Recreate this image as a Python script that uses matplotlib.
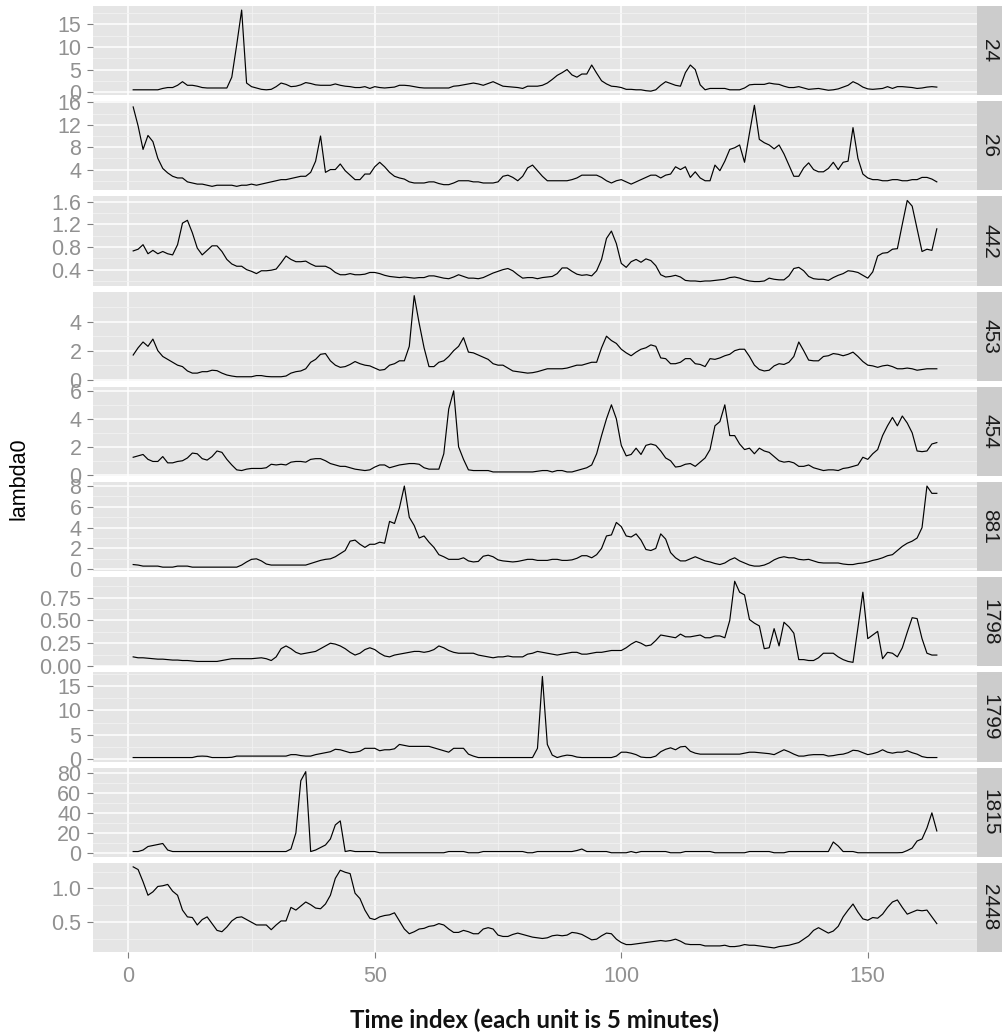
import numpy as np
import matplotlib
matplotlib.use("Agg")
import matplotlib.pyplot as plt

# ---- data -----------------------------------------------------------------
time_index = np.arange(1, 165)

sensor_ids = ["24", "26", "442", "453", "454", "881", "1798", "1799", "1815", "2448"]

lambda_24 = [
    0.5, 0.5, 0.5, 0.5, 0.5, 0.5, 0.8, 1.0, 1.0, 1.5,
    2.3, 1.5, 1.5, 1.3, 1.0, 0.9, 0.9, 0.9, 0.9, 0.9,
    3.3, 10.5, 18.2, 2.0, 1.2, 0.9, 0.6, 0.5, 0.6, 1.2,
    2.0, 1.7, 1.2, 1.3, 1.6, 2.1, 1.9, 1.6, 1.5, 1.5,
    1.5, 1.8, 1.5, 1.3, 1.2, 1.0, 1.0, 1.2, 0.8, 1.2,
    1.0, 0.9, 1.0, 1.1, 1.5, 1.5, 1.4, 1.2, 1.0, 0.9,
    0.9, 0.9, 0.9, 0.9, 0.9, 1.3, 1.4, 1.6, 1.8, 2.0,
    1.8, 1.5, 1.9, 2.3, 1.8, 1.3, 1.2, 1.1, 1.0, 0.8,
    1.3, 1.3, 1.3, 1.5, 2.0, 2.8, 3.7, 4.3, 5.0, 3.8,
    3.3, 4.0, 4.0, 6.0, 4.2, 2.5, 1.8, 1.3, 1.2, 1.0,
    0.6, 0.6, 0.5, 0.5, 0.3, 0.2, 0.5, 1.5, 2.3, 1.9,
    1.5, 1.3, 4.3, 6.0, 5.0, 1.6, 0.5, 0.8, 0.8, 0.8,
    0.8, 0.5, 0.5, 0.5, 0.9, 1.6, 1.7, 1.7, 1.7, 2.0,
    1.8, 1.7, 1.3, 1.0, 1.0, 1.2, 0.9, 0.6, 0.7, 0.8,
    0.6, 0.4, 0.5, 0.7, 1.1, 1.5, 2.3, 1.8, 1.1, 0.7,
    0.6, 0.7, 0.8, 1.2, 0.8, 1.2, 1.2, 1.1, 1.0, 0.8,
    0.9, 1.1, 1.2, 1.1,
]

lambda_26 = [
    15.2, 11.8, 7.6, 10.1, 9.0, 6.0, 4.2, 3.4, 2.8, 2.5,
    2.5, 1.8, 1.6, 1.4, 1.4, 1.2, 1.0, 1.2, 1.2, 1.2,
    1.2, 1.0, 1.2, 1.2, 1.4, 1.2, 1.4, 1.6, 1.8, 2.0,
    2.2, 2.2, 2.4, 2.6, 2.8, 2.8, 3.5, 5.5, 10.0, 3.5,
    4.0, 4.0, 5.0, 3.8, 3.0, 2.2, 2.2, 3.2, 3.2, 4.5,
    5.3, 4.5, 3.5, 2.8, 2.5, 2.3, 1.8, 1.6, 1.6, 1.6,
    1.8, 1.8, 1.5, 1.3, 1.3, 1.6, 2.0, 2.0, 2.0, 1.8,
    1.8, 1.6, 1.6, 1.6, 1.8, 2.8, 3.0, 2.6, 2.0, 2.8,
    4.3, 4.8, 3.8, 2.8, 2.0, 2.0, 2.0, 2.0, 2.0, 2.2,
    2.5, 3.0, 3.0, 3.0, 3.0, 2.6, 2.0, 1.6, 2.0, 2.2,
    1.8, 1.4, 1.8, 2.2, 2.6, 3.0, 3.0, 2.5, 3.0, 3.2,
    4.5, 4.0, 4.5, 2.6, 3.6, 2.5, 2.0, 2.0, 4.8, 3.8,
    5.5, 7.6, 7.9, 8.4, 5.3, 10.5, 15.5, 9.4, 8.8, 8.4,
    7.7, 8.4, 6.8, 4.8, 2.8, 2.8, 4.3, 5.2, 4.0, 3.6,
    3.6, 4.2, 5.3, 4.0, 5.3, 5.5, 11.5, 6.0, 3.2, 2.5,
    2.2, 2.2, 2.0, 2.0, 2.2, 2.2, 2.0, 2.0, 2.2, 2.2,
    2.6, 2.6, 2.3, 1.8,
]

lambda_442 = [
    0.73, 0.76, 0.84, 0.68, 0.74, 0.68, 0.72, 0.68, 0.66, 0.84,
    1.22, 1.27, 1.05, 0.78, 0.66, 0.74, 0.82, 0.82, 0.72, 0.58,
    0.50, 0.46, 0.46, 0.40, 0.37, 0.33, 0.38, 0.38, 0.39, 0.41,
    0.52, 0.64, 0.58, 0.54, 0.54, 0.55, 0.50, 0.46, 0.46, 0.46,
    0.42, 0.35, 0.31, 0.31, 0.33, 0.31, 0.31, 0.32, 0.35, 0.35,
    0.33, 0.30, 0.28, 0.27, 0.26, 0.27, 0.26, 0.25, 0.26, 0.26,
    0.29, 0.29, 0.27, 0.25, 0.24, 0.27, 0.31, 0.28, 0.25, 0.25,
    0.24, 0.26, 0.30, 0.34, 0.37, 0.40, 0.42, 0.38, 0.31, 0.25,
    0.26, 0.26, 0.24, 0.26, 0.27, 0.28, 0.33, 0.43, 0.43, 0.37,
    0.32, 0.30, 0.31, 0.29, 0.38, 0.58, 0.95, 1.08, 0.86, 0.51,
    0.44, 0.54, 0.58, 0.53, 0.59, 0.56, 0.47, 0.31, 0.27, 0.28,
    0.30, 0.27, 0.21, 0.20, 0.20, 0.19, 0.20, 0.20, 0.21, 0.22,
    0.23, 0.26, 0.27, 0.25, 0.22, 0.20, 0.19, 0.19, 0.20, 0.25,
    0.23, 0.22, 0.22, 0.29, 0.42, 0.44, 0.38, 0.28, 0.24, 0.23,
    0.23, 0.21, 0.26, 0.30, 0.33, 0.38, 0.37, 0.35, 0.30, 0.25,
    0.36, 0.64, 0.69, 0.70, 0.76, 0.77, 1.20, 1.62, 1.52, 1.12,
    0.72, 0.76, 0.74, 1.12,
]

lambda_453 = [
    1.7, 2.2, 2.6, 2.3, 2.8, 2.0, 1.6, 1.4, 1.2, 1.0,
    0.9, 0.6, 0.45, 0.45, 0.55, 0.55, 0.65, 0.62, 0.45, 0.32,
    0.25, 0.2, 0.2, 0.2, 0.2, 0.28, 0.28, 0.22, 0.2, 0.2,
    0.2, 0.25, 0.45, 0.55, 0.6, 0.75, 1.2, 1.4, 1.75, 1.8,
    1.3, 1.0, 0.85, 0.9, 1.05, 1.25, 1.1, 1.0, 0.95, 0.8,
    0.65, 0.7, 1.0, 1.1, 1.3, 1.3, 2.3, 5.8, 3.9, 2.2,
    0.9, 0.9, 1.2, 1.3, 1.6, 2.0, 2.3, 2.9, 1.9, 1.85,
    1.7, 1.55, 1.4, 1.1, 1.0, 1.0, 0.8, 0.6, 0.55, 0.5,
    0.45, 0.48, 0.55, 0.65, 0.75, 0.75, 0.75, 0.75, 0.8, 0.9,
    1.0, 1.0, 1.1, 1.2, 1.2, 2.2, 3.0, 2.7, 2.5, 2.1,
    1.85, 1.65, 1.9, 2.1, 2.2, 2.4, 2.3, 1.5, 1.45, 1.1,
    1.1, 1.2, 1.45, 1.45, 1.1, 1.05, 0.9, 1.45, 1.4, 1.5,
    1.65, 1.75, 2.0, 2.1, 2.1, 1.6, 1.0, 0.7, 0.6, 0.65,
    0.95, 1.1, 1.05, 1.2, 1.6, 2.6, 2.0, 1.35, 1.3, 1.3,
    1.6, 1.65, 1.8, 1.75, 1.65, 1.75, 1.9, 1.6, 1.25, 1.0,
    0.95, 0.85, 0.95, 1.0, 0.9, 0.75, 0.75, 0.8, 0.75, 0.65,
    0.7, 0.75, 0.75, 0.75,
]

lambda_454 = [
    1.25, 1.35, 1.45, 1.1, 0.95, 0.95, 1.3, 0.85, 0.85, 0.95,
    1.0, 1.2, 1.55, 1.5, 1.15, 1.05, 1.3, 1.7, 1.6, 1.1,
    0.7, 0.35, 0.3, 0.4, 0.45, 0.45, 0.45, 0.5, 0.75, 0.7,
    0.75, 0.7, 0.9, 0.95, 0.95, 0.9, 1.1, 1.15, 1.15, 1.0,
    0.8, 0.7, 0.6, 0.6, 0.5, 0.4, 0.35, 0.3, 0.35, 0.55,
    0.7, 0.7, 0.5, 0.6, 0.7, 0.75, 0.8, 0.8, 0.75, 0.5,
    0.4, 0.4, 0.4, 1.5, 4.7, 6.0, 2.0, 1.1, 0.35, 0.3,
    0.3, 0.3, 0.3, 0.2, 0.2, 0.2, 0.2, 0.2, 0.2, 0.2,
    0.2, 0.2, 0.25, 0.3, 0.3, 0.2, 0.3, 0.3, 0.2, 0.2,
    0.3, 0.4, 0.5, 0.7, 1.5, 2.8, 4.0, 5.0, 4.0, 2.1,
    1.35, 1.45, 1.9, 1.45, 2.1, 2.2, 2.1, 1.7, 1.2, 1.0,
    0.55, 0.6, 0.75, 0.8, 0.6, 0.9, 1.2, 1.8, 3.5, 3.8,
    5.0, 2.8, 2.8, 2.2, 1.8, 1.9, 1.5, 1.9, 1.7, 1.6,
    1.3, 1.0, 0.9, 0.95, 0.85, 0.6, 0.6, 0.7, 0.5, 0.4,
    0.3, 0.35, 0.35, 0.3, 0.45, 0.5, 0.6, 0.7, 1.25, 1.1,
    1.5, 1.8, 2.8, 3.5, 4.1, 3.5, 4.2, 3.7, 3.0, 1.7,
    1.65, 1.7, 2.2, 2.3,
]

lambda_881 = [
    0.45, 0.4, 0.3, 0.3, 0.3, 0.3, 0.2, 0.2, 0.2, 0.3,
    0.3, 0.3, 0.2, 0.2, 0.2, 0.2, 0.2, 0.2, 0.2, 0.2,
    0.2, 0.2, 0.4, 0.7, 0.95, 1.0, 0.8, 0.5, 0.4, 0.4,
    0.4, 0.4, 0.4, 0.4, 0.4, 0.4, 0.55, 0.7, 0.85, 0.95,
    1.0, 1.2, 1.5, 1.8, 2.7, 2.8, 2.4, 2.1, 2.4, 2.4,
    2.6, 2.5, 4.6, 4.4, 5.9, 8.0, 5.0, 4.2, 3.0, 3.2,
    2.6, 2.1, 1.4, 1.2, 0.95, 0.95, 0.95, 1.1, 0.8, 0.7,
    0.75, 1.25, 1.35, 1.2, 0.9, 0.8, 0.75, 0.7, 0.75, 0.85,
    0.95, 0.95, 0.85, 0.85, 0.85, 0.95, 0.95, 0.85, 0.85, 0.9,
    1.05, 1.3, 1.3, 1.1, 1.4, 2.0, 3.2, 3.3, 4.5, 4.1,
    3.2, 3.1, 3.4, 2.8, 1.9, 1.8, 2.0, 3.4, 2.9, 1.6,
    1.1, 0.8, 0.8, 1.0, 1.2, 1.0, 0.8, 0.7, 0.55, 0.45,
    0.6, 0.9, 1.1, 0.8, 0.6, 0.4, 0.3, 0.3, 0.4, 0.6,
    0.9, 1.1, 1.2, 1.1, 1.1, 0.95, 0.9, 0.95, 0.8, 0.65,
    0.6, 0.6, 0.6, 0.6, 0.5, 0.45, 0.45, 0.55, 0.6, 0.7,
    0.85, 0.95, 1.1, 1.3, 1.4, 1.8, 2.2, 2.5, 2.7, 3.0,
    4.0, 8.0, 7.3, 7.3,
]

lambda_1798 = [
    0.10, 0.09, 0.09, 0.085, 0.08, 0.075, 0.075, 0.07, 0.065, 0.065,
    0.06, 0.06, 0.055, 0.05, 0.05, 0.05, 0.05, 0.05, 0.06, 0.07,
    0.08, 0.08, 0.08, 0.08, 0.08, 0.085, 0.09, 0.08, 0.06, 0.10,
    0.19, 0.22, 0.19, 0.15, 0.13, 0.14, 0.15, 0.16, 0.19, 0.22,
    0.25, 0.24, 0.22, 0.19, 0.15, 0.12, 0.14, 0.18, 0.20, 0.18,
    0.14, 0.11, 0.10, 0.12, 0.13, 0.14, 0.15, 0.16, 0.16, 0.15,
    0.16, 0.18, 0.22, 0.20, 0.17, 0.15, 0.14, 0.14, 0.14, 0.14,
    0.12, 0.11, 0.10, 0.09, 0.10, 0.10, 0.11, 0.10, 0.10, 0.10,
    0.13, 0.14, 0.16, 0.15, 0.14, 0.13, 0.12, 0.13, 0.14, 0.15,
    0.15, 0.13, 0.13, 0.14, 0.15, 0.15, 0.16, 0.17, 0.17, 0.17,
    0.20, 0.24, 0.27, 0.25, 0.22, 0.23, 0.28, 0.34, 0.33, 0.32,
    0.31, 0.35, 0.32, 0.32, 0.33, 0.34, 0.31, 0.31, 0.33, 0.33,
    0.31, 0.50, 0.93, 0.81, 0.78, 0.51, 0.47, 0.44, 0.19, 0.20,
    0.41, 0.22, 0.48, 0.43, 0.36, 0.07, 0.07, 0.06, 0.06, 0.09,
    0.14, 0.14, 0.14, 0.10, 0.07, 0.05, 0.04, 0.42, 0.81, 0.30,
    0.34, 0.38, 0.08, 0.15, 0.14, 0.10, 0.20, 0.37, 0.53, 0.52,
    0.30, 0.14, 0.12, 0.12,
]

lambda_1799 = [
    0.3, 0.3, 0.3, 0.3, 0.3, 0.3, 0.3, 0.3, 0.3, 0.3,
    0.3, 0.3, 0.3, 0.55, 0.6, 0.55, 0.3, 0.3, 0.3, 0.3,
    0.35, 0.6, 0.6, 0.6, 0.6, 0.6, 0.6, 0.6, 0.6, 0.6,
    0.6, 0.6, 0.9, 0.9, 0.7, 0.6, 0.6, 0.9, 1.1, 1.3,
    1.5, 2.0, 1.9, 1.6, 1.3, 1.4, 1.6, 2.2, 2.2, 2.2,
    1.7, 1.9, 1.9, 2.1, 3.0, 2.8, 2.6, 2.6, 2.6, 2.6,
    2.6, 2.3, 2.0, 1.7, 1.4, 2.2, 2.2, 2.2, 1.0, 0.6,
    0.3, 0.3, 0.3, 0.3, 0.3, 0.3, 0.3, 0.3, 0.3, 0.3,
    0.3, 0.3, 2.2, 17.0, 3.0, 0.8, 0.3, 0.6, 0.8, 0.7,
    0.4, 0.3, 0.3, 0.3, 0.3, 0.3, 0.3, 0.3, 0.6, 1.4,
    1.4, 1.2, 0.9, 0.4, 0.3, 0.3, 0.6, 1.5, 2.0, 2.3,
    1.9, 2.5, 2.6, 1.6, 1.2, 1.0, 1.0, 1.0, 1.0, 1.0,
    1.0, 1.0, 1.0, 1.0, 1.2, 1.4, 1.4, 1.3, 1.2, 1.1,
    0.9, 1.4, 1.9, 1.5, 1.0, 0.6, 0.6, 0.8, 0.9, 0.9,
    0.9, 0.6, 0.7, 0.9, 1.0, 1.3, 1.8, 1.7, 1.3, 0.9,
    1.1, 1.4, 1.9, 1.4, 1.2, 1.4, 1.4, 1.7, 1.3, 1.0,
    0.5, 0.3, 0.3, 0.3,
]

lambda_1815 = [
    1.5, 1.5, 3.0, 6.5, 7.5, 8.5, 9.5, 3.0, 1.5, 1.5,
    1.5, 1.5, 1.5, 1.5, 1.5, 1.5, 1.5, 1.5, 1.5, 1.5,
    1.5, 1.5, 1.5, 1.5, 1.5, 1.5, 1.5, 1.5, 1.5, 1.5,
    1.5, 1.5, 4.0, 20.0, 72.0, 81.0, 1.5, 3.0, 5.5, 8.0,
    14.0, 28.0, 32.0, 1.5, 2.5, 1.5, 1.5, 1.5, 1.5, 1.5,
    0.3, 0.3, 0.3, 0.3, 0.3, 0.3, 0.3, 0.3, 0.3, 0.3,
    0.3, 0.3, 0.3, 0.3, 1.5, 1.5, 1.5, 1.5, 0.3, 0.3,
    0.3, 1.5, 1.5, 1.5, 1.5, 1.5, 1.5, 1.5, 1.5, 1.5,
    0.3, 0.3, 1.5, 1.5, 1.5, 1.5, 1.5, 1.5, 1.5, 1.5,
    2.5, 4.0, 1.5, 1.5, 1.5, 1.5, 1.5, 0.3, 0.3, 0.3,
    0.3, 1.5, 0.3, 1.5, 1.5, 1.5, 1.5, 1.5, 1.5, 0.3,
    0.3, 0.3, 1.5, 1.5, 1.5, 1.5, 1.5, 1.5, 0.3, 0.3,
    0.3, 0.3, 0.3, 0.3, 0.3, 1.5, 1.5, 1.5, 1.5, 1.5,
    0.3, 0.3, 0.3, 1.5, 1.5, 1.5, 1.5, 1.5, 1.5, 1.5,
    1.5, 1.5, 11.0, 7.0, 1.5, 1.5, 1.5, 0.3, 0.3, 0.3,
    0.3, 0.3, 0.3, 0.3, 0.3, 0.3, 0.5, 2.5, 5.0, 12.0,
    14.0, 25.0, 40.0, 22.0,
]

lambda_2448 = [
    1.32, 1.28, 1.10, 0.90, 0.95, 1.03, 1.04, 1.06, 0.96, 0.90,
    0.68, 0.58, 0.57, 0.46, 0.54, 0.58, 0.48, 0.38, 0.36, 0.43,
    0.52, 0.57, 0.58, 0.54, 0.50, 0.46, 0.46, 0.46, 0.39, 0.46,
    0.52, 0.52, 0.72, 0.68, 0.74, 0.80, 0.76, 0.71, 0.70, 0.77,
    0.90, 1.15, 1.27, 1.24, 1.22, 0.93, 0.85, 0.68, 0.56, 0.54,
    0.58, 0.60, 0.61, 0.64, 0.52, 0.40, 0.33, 0.36, 0.40, 0.41,
    0.44, 0.45, 0.48, 0.46, 0.40, 0.35, 0.35, 0.38, 0.36, 0.33,
    0.33, 0.40, 0.42, 0.40, 0.31, 0.29, 0.29, 0.32, 0.34, 0.32,
    0.30, 0.28, 0.27, 0.26, 0.27, 0.30, 0.31, 0.30, 0.31, 0.35,
    0.34, 0.32, 0.28, 0.24, 0.25, 0.30, 0.34, 0.33, 0.25, 0.20,
    0.17, 0.17, 0.18, 0.19, 0.20, 0.21, 0.22, 0.23, 0.22, 0.23,
    0.25, 0.22, 0.18, 0.17, 0.17, 0.17, 0.15, 0.15, 0.15, 0.15,
    0.16, 0.14, 0.14, 0.15, 0.17, 0.16, 0.16, 0.15, 0.14, 0.13,
    0.12, 0.14, 0.15, 0.16, 0.18, 0.20, 0.25, 0.30, 0.38, 0.42,
    0.38, 0.34, 0.37, 0.44, 0.58, 0.68, 0.77, 0.65, 0.55, 0.53,
    0.57, 0.56, 0.62, 0.72, 0.80, 0.83, 0.72, 0.62, 0.65, 0.68,
    0.67, 0.68, 0.58, 0.48,
]

series = [lambda_24, lambda_26, lambda_442, lambda_453, lambda_454,
          lambda_881, lambda_1798, lambda_1799, lambda_1815, lambda_2448]

y_breaks = [
    [0, 5, 10, 15],
    [4, 8, 12, 16],
    [0.4, 0.8, 1.2, 1.6],
    [0, 2, 4],
    [0, 2, 4, 6],
    [0, 2, 4, 6, 8],
    [0.0, 0.25, 0.5, 0.75],
    [0, 5, 10, 15],
    [0, 20, 40, 60, 80],
    [0.5, 1.0],
]
y_labels = [
    ["0", "5", "10", "15"],
    ["4", "8", "12", "16"],
    ["0.4", "0.8", "1.2", "1.6"],
    ["0", "2", "4"],
    ["0", "2", "4", "6"],
    ["0", "2", "4", "6", "8"],
    ["0.00", "0.25", "0.50", "0.75"],
    ["0", "5", "10", "15"],
    ["0", "20", "40", "60", "80"],
    ["0.5", "1.0"],
]
x_breaks = [0, 50, 100, 150]
x_labels = ["0", "50", "100", "150"]

# ---- layout (pixels) ------------------------------------------------------
W, H = 1003, 1033
dpi = 100
panel_left, panel_right = 93, 977
strip_w = 26
panel_top0, panel_h, panel_step = 6, 89.2, 95.2

bg_panel = "#E5E5E5"
bg_strip = "#CCCCCC"
grid_minor = "#F2F2F2"
tick_col = "#7F7F7F"
label_col = "#919191"
tick_font = ["Liberation Sans", "DejaVu Sans"]

fig = plt.figure(figsize=(W / dpi, H / dpi), dpi=dpi)
fig.patch.set_facecolor("white")


def frac_box(left, top, width, height):
    return [left / W, 1 - (top + height) / H, width / W, height / H]


def minor_breaks(br):
    step = br[1] - br[0]
    ext = [br[0] - step] + list(br) + [br[-1] + step]
    return [(a + b) / 2 for a, b in zip(ext[:-1], ext[1:])]


xmin, xmax = time_index.min(), time_index.max()
xpad = 0.05 * (xmax - xmin)
x_minor = minor_breaks(x_breaks)

n = len(series)
for i, (sid, vals) in enumerate(zip(sensor_ids, series)):
    top = panel_top0 + i * panel_step
    ax = fig.add_axes(frac_box(panel_left, top, panel_right - panel_left, panel_h))
    ax.set_facecolor(bg_panel)
    for sp in ax.spines.values():
        sp.set_visible(False)

    v = np.asarray(vals, dtype=float)
    ax.plot(time_index, v, color="black", linewidth=0.85)

    ax.set_yticks(y_breaks[i])
    ax.set_yticklabels(y_labels[i])
    ax.set_yticks(minor_breaks(y_breaks[i]), minor=True)
    ax.set_xticks(x_breaks)
    ax.set_xticks(x_minor, minor=True)

    # ggplot-style 5% expansion, applied after the ticks so they cannot widen it
    lo, hi = v.min(), v.max()
    pad = 0.05 * (hi - lo)
    ax.set_ylim(lo - pad, hi + pad)
    ax.set_xlim(xmin - xpad, xmax + xpad)

    ax.set_axisbelow(True)
    ax.grid(which="minor", color=grid_minor, linewidth=0.6)
    ax.grid(which="major", color="white", linewidth=1.1)

    ax.tick_params(axis="y", which="major", length=4.3, width=0.8,
                   color=tick_col, labelcolor=label_col, labelsize=15.5, pad=4)
    ax.tick_params(which="minor", length=0)
    for lab in ax.get_yticklabels():
        lab.set_family(tick_font)

    if i == n - 1:
        ax.set_xticklabels(x_labels)
        ax.tick_params(axis="x", which="major", length=4.3, width=0.8,
                       color=tick_col, labelcolor=label_col, labelsize=15.5,
                       pad=6)
        for lab in ax.get_xticklabels():
            lab.set_family(tick_font)
    else:
        ax.tick_params(axis="x", which="major", length=0, labelbottom=False)

    # facet strip on the right
    sax = fig.add_axes(frac_box(panel_right, top, strip_w, panel_h))
    sax.set_facecolor(bg_strip)
    sax.set_xticks([])
    sax.set_yticks([])
    for sp in sax.spines.values():
        sp.set_visible(False)
    sax.text(0.5, 0.5, sid, rotation=270, ha="center", va="center",
             color="#1A1A1A", fontsize=15, family=tick_font,
             transform=sax.transAxes)

fig.text(19 / W, 1 - 479 / H, "lambda0", rotation=90, ha="center",
         va="center", fontsize=15.5, color="black", family=tick_font)
fig.text((panel_left + panel_right) / 2 / W, 1 - 1020 / H,
         "Time index (each unit is 5 minutes)", ha="center", va="center",
         fontsize=17.3, fontweight="bold", color="#111111",
         family=["Lato", "DejaVu Sans"])

fig.savefig("out.png", dpi=dpi)
